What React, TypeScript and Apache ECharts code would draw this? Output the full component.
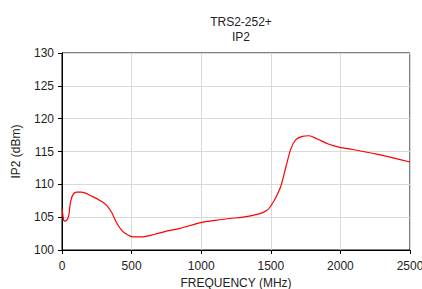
import React, { useEffect, useRef } from "react";
import * as echarts from "echarts";

const titleLines = ["TRS2-252+", "IP2"];
const xTicks = [0, 500, 1000, 1500, 2000, 2500];
const yTicks = [100, 105, 110, 115, 120, 125, 130];
const freq = [0, 5, 10, 16, 33, 48, 62, 81, 105, 141, 213, 285, 321, 357, 393, 429, 465, 512, 572, 667, 739, 848, 1003, 1100, 1207, 1300, 1416, 1470, 1500, 1536, 1572, 1608, 1644, 1680, 1727, 1774, 1834, 1918, 2002, 2062, 2260, 2500];
const ip2 = [106.3, 106.3, 104.8, 104.4, 104.5, 105.2, 107.4, 108.5, 108.8, 108.8, 108.2, 107.4, 106.8, 105.7, 104.1, 103.0, 102.4, 102.0, 102.0, 102.4, 102.8, 103.3, 104.2, 104.5, 104.8, 105.0, 105.5, 106.0, 106.7, 108.0, 109.7, 112.6, 115.4, 116.8, 117.3, 117.4, 116.9, 116.1, 115.6, 115.4, 114.6, 113.4];

export default function App() {
  const ref = useRef<HTMLDivElement>(null);
  useEffect(() => {
    if (!ref.current) return;
    const chart = echarts.init(ref.current, undefined, { renderer: "svg" });
    const font = "Liberation Sans, Arial, sans-serif";
    chart.setOption({
      animation: false,
      title: {
        text: titleLines.join("\n"),
        left: 236,
        textAlign: "center",
        top: 9,
        textStyle: { fontFamily: font, fontSize: 12, fontWeight: "normal", color: "#222", lineHeight: 15 },
      },
      grid: {
        left: 62, right: 12, top: 53, bottom: 39,
        outerBoundsMode: "none",
        containLabel: false,
        show: true, borderColor: "#000", borderWidth: 1, backgroundColor: "transparent",
      },
      xAxis: {
        type: "value",
        min: xTicks[0],
        max: xTicks[xTicks.length - 1],
        interval: 500,
        name: "FREQUENCY (MHz)",
        nameLocation: "middle",
        nameGap: 23,
        nameTextStyle: { fontFamily: font, fontSize: 12, color: "#222" },
        axisLine: { show: true, lineStyle: { color: "#000", width: 1 } },
        axisTick: { show: true, inside: false, length: 4, lineStyle: { color: "#000" } },
        axisLabel: { fontFamily: font, fontSize: 12, color: "#222", margin: 10, formatter: (v: number) => String(v) },
        splitLine: { show: true, lineStyle: { color: "#d9d9d9", width: 1 } },
      },
      yAxis: {
        type: "value",
        min: yTicks[0],
        max: yTicks[yTicks.length - 1],
        interval: 5,
        name: "IP2 (dBm)",
        nameLocation: "middle",
        nameGap: 40,
        nameTextStyle: { fontFamily: font, fontSize: 12, color: "#222" },
        axisLine: { show: true, lineStyle: { color: "#000", width: 1 } },
        axisTick: { show: true, inside: false, length: 4, lineStyle: { color: "#000" } },
        axisLabel: { fontFamily: font, fontSize: 12, color: "#222", margin: 8 },
        splitLine: { show: true, lineStyle: { color: "#d9d9d9", width: 1 } },
      },
      series: [
        {
          type: "line",
          data: freq.map((f, i) => [f, ip2[i]]),
          smooth: 0.3,
          showSymbol: false,
          lineStyle: { color: "#ff0000", width: 1.2 },
        },
      ],
    });
    return () => chart.dispose();
  }, []);
  return <div ref={ref} style={{ width: 422, height: 289, position: "absolute", left: 0, top: 0 }} />;
}
